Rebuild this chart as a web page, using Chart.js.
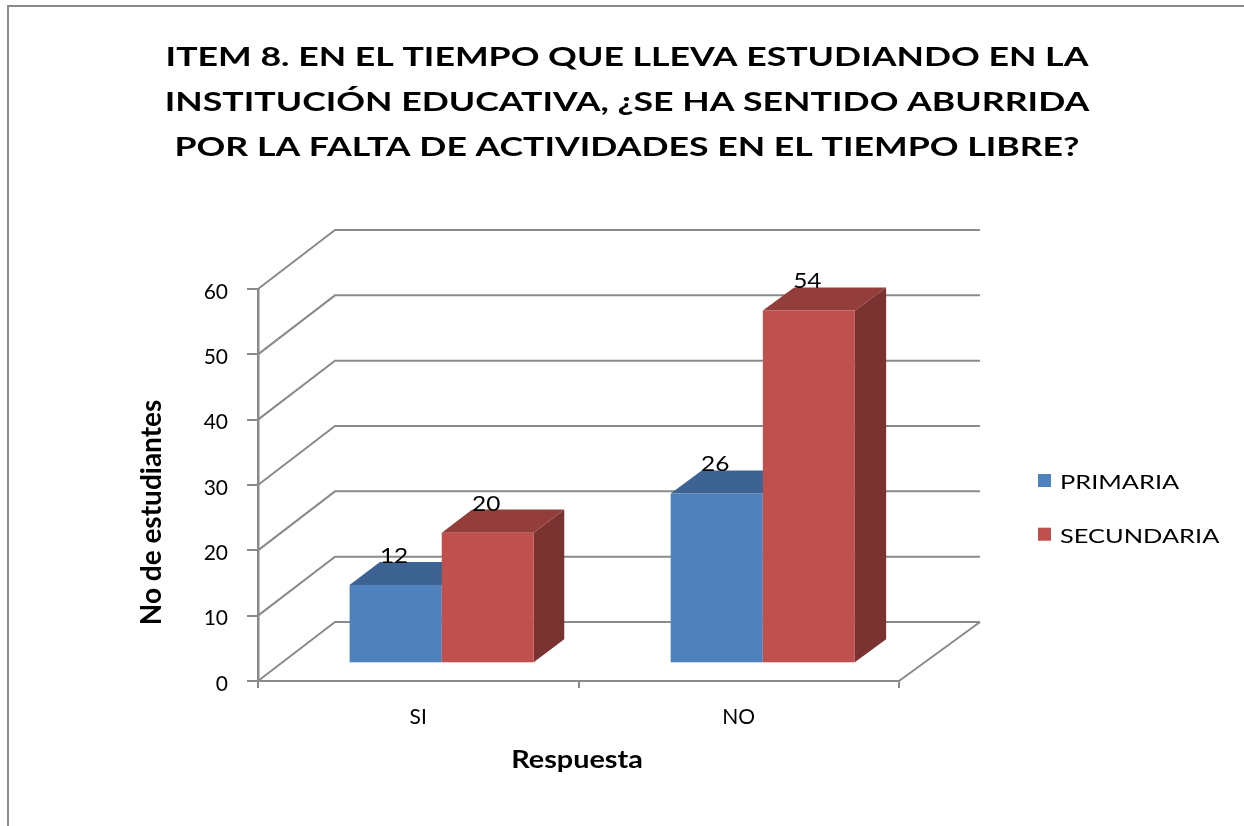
<!DOCTYPE html>
<html><head><meta charset="utf-8">
<script src="https://cdn.jsdelivr.net/npm/chart.js@4/dist/chart.umd.min.js"></script>
<style>html,body{margin:0;padding:0;background:#fff;overflow:hidden}canvas{display:block}</style>
</head><body>
<canvas id="c" width="1244" height="826"></canvas>
<script>
// ---- data ----
const categories = ['SI', 'NO'];
const primaria = [12, 26];
const secundaria = [20, 54];
const seriesNames = ['PRIMARIA', 'SECUNDARIA'];
const yTicks = [0, 10, 20, 30, 40, 50, 60];
const titleLines = [
  'ITEM 8. EN EL TIEMPO QUE LLEVA ESTUDIANDO EN LA',
  'INSTITUCIÓN EDUCATIVA, ¿SE HA SENTIDO ABURRIDA',
  'POR LA FALTA DE ACTIVIDADES EN EL TIEMPO LIBRE?'
];
const xTitle = 'Respuesta';
const yTitle = 'No de estudiantes';

// ---- style ----
const FRONT = ['#4F81BD', '#C0504D'];
const TOP = ['#3D6392', '#943E3B'];
const SIDE = ['#335379', '#7B3331'];
const GRID = '#8A8A8A';
const DEPTH = {dxL: 77, dxR: 81, dy: -59, front: 0.30, bar: 0.39};
// horizontal text stretch factors (the reference text is drawn wide)
const K = {label: 1.11, title: 1.32, xTitle: 1.2, yTitle: 1.0, legend: 1.27};

function drawText(ctx, text, x, y, o) {
  ctx.save();
  ctx.font = o.font; ctx.fillStyle = o.color || '#000';
  ctx.textAlign = o.align || 'left'; ctx.textBaseline = 'alphabetic';
  ctx.translate(x, y);
  if (o.rotate) ctx.rotate(o.rotate);
  ctx.scale(o.kx || 1, 1);
  ctx.fillText(text, 0, 0);
  ctx.restore();
}
function dxAt(ca, x) { return DEPTH.dxL + (DEPTH.dxR - DEPTH.dxL) * (x - ca.left) / (ca.right - ca.left); }

const threeD = {
  id: 'threeD',
  beforeDatasetsDraw(chart) {
    const ctx = chart.ctx, ca = chart.chartArea, ys = chart.scales.y;
    // walls and floor
    ctx.save();
    ctx.strokeStyle = GRID; ctx.lineWidth = 2; ctx.lineJoin = 'miter';
    ys.ticks.forEach(t => {
      const y = ys.getPixelForValue(t.value);
      ctx.beginPath();
      ctx.moveTo(ca.left, y);
      ctx.lineTo(ca.left + DEPTH.dxL, y + DEPTH.dy);
      ctx.lineTo(ca.right + DEPTH.dxR, y + DEPTH.dy);
      ctx.stroke();
    });
    ctx.beginPath();
    ctx.moveTo(ca.right, ca.bottom);
    ctx.lineTo(ca.right + DEPTH.dxR, ca.bottom + DEPTH.dy);
    ctx.stroke();
    ctx.restore();

    // 3D bars (front, top and right side faces) from the bar elements' scale positions
    const lblFont = '22px Lato';
    chart.data.datasets.forEach((ds, d) => {
      const meta = chart.getDatasetMeta(d);
      meta.data.forEach((el, i) => {
        const p = el.getProps(['x', 'y', 'base', 'width'], true);
        const dx = dxAt(ca, p.x);
        const fx = DEPTH.front * dx, fy = DEPTH.front * DEPTH.dy;
        const bx = DEPTH.bar * dx, by = DEPTH.bar * DEPTH.dy;
        const L = p.x - p.width / 2 + fx, R = p.x + p.width / 2 + fx;
        const T = p.y + fy, B = p.base + fy;
        ctx.save();
        ctx.fillStyle = SIDE[d];
        ctx.beginPath();
        ctx.moveTo(R, T); ctx.lineTo(R + bx, T + by); ctx.lineTo(R + bx, B + by); ctx.lineTo(R, B);
        ctx.closePath(); ctx.fill();
        ctx.fillStyle = TOP[d];
        ctx.beginPath();
        ctx.moveTo(L, T); ctx.lineTo(R, T); ctx.lineTo(R + bx, T + by); ctx.lineTo(L + bx, T + by);
        ctx.closePath(); ctx.fill();
        ctx.fillStyle = FRONT[d];
        ctx.fillRect(L, T, R - L, B - T);
        ctx.restore();
        drawText(ctx, String(ds.data[i]), (L + R) / 2 - 1.5, T + by + 1, {font: lblFont, align: 'center', kx: K.label});
      });
    });
    return false;
  },
  afterDraw(chart) {
    const ctx = chart.ctx;
    // frame
    ctx.save();
    ctx.strokeStyle = GRID; ctx.lineWidth = 2;
    ctx.strokeRect(8, 6, 2000, 2000);
    ctx.restore();
    // title
    titleLines.forEach((s, i) => drawText(ctx, s, 627, 66 + i * 45, {font: 'bold 27px Lato', align: 'center', kx: K.title}));
    // axis titles
    drawText(ctx, xTitle, 577, 768, {font: 'bold 24px Lato', align: 'center', kx: K.xTitle});
    drawText(ctx, yTitle, 160.5, 512.5, {font: 'bold 28px Lato', align: 'center', rotate: -Math.PI / 2, kx: K.yTitle});
    // legend
    chart.data.datasets.forEach((ds, d) => {
      const base = 489 + d * 53.7;
      ctx.save(); ctx.fillStyle = FRONT[d];
      ctx.fillRect(1038, base - 15, 13, 13);
      ctx.restore();
      drawText(ctx, ds.label, 1060, base, {font: '20px Lato', align: 'left', kx: K.legend});
    });
  }
};

new Chart(document.getElementById('c'), {
  type: 'bar',
  data: {
    labels: categories,
    datasets: [
      {label: seriesNames[0], data: primaria, backgroundColor: FRONT[0]},
      {label: seriesNames[1], data: secundaria, backgroundColor: FRONT[1]}
    ]
  },
  options: {
    responsive: false,
    animation: false,
    events: [],
    datasets: {bar: {categoryPercentage: 0.574, barPercentage: 1}},
    layout: {padding: {left: 198, right: 345, top: 289, bottom: 85}},
    plugins: {legend: {display: false}, title: {display: false}, tooltip: {enabled: false}},
    scales: {
      x: {
        grid: {drawOnChartArea: false, tickLength: 7, color: GRID, lineWidth: 2, offset: true},
        border: {color: GRID, width: 2},
        ticks: {font: {family: 'Lato', size: 21}, color: '#000', padding: 17},
        afterFit: s => { s.height = 60; }
      },
      y: {
        min: 0, max: 60,
        afterBuildTicks: s => { s.ticks = yTicks.map(v => ({value: v})); },
        grid: {tickLength: 11, color: GRID, lineWidth: 2, drawOnChartArea: false},
        border: {color: GRID, width: 2.5},
        ticks: {font: {family: 'Lato', size: 21}, color: '#000', padding: 19, labelOffset: 3},
        afterFit: s => { s.width = 60; }
      }
    }
  },
  plugins: [threeD]
});
</script>
</body></html>
